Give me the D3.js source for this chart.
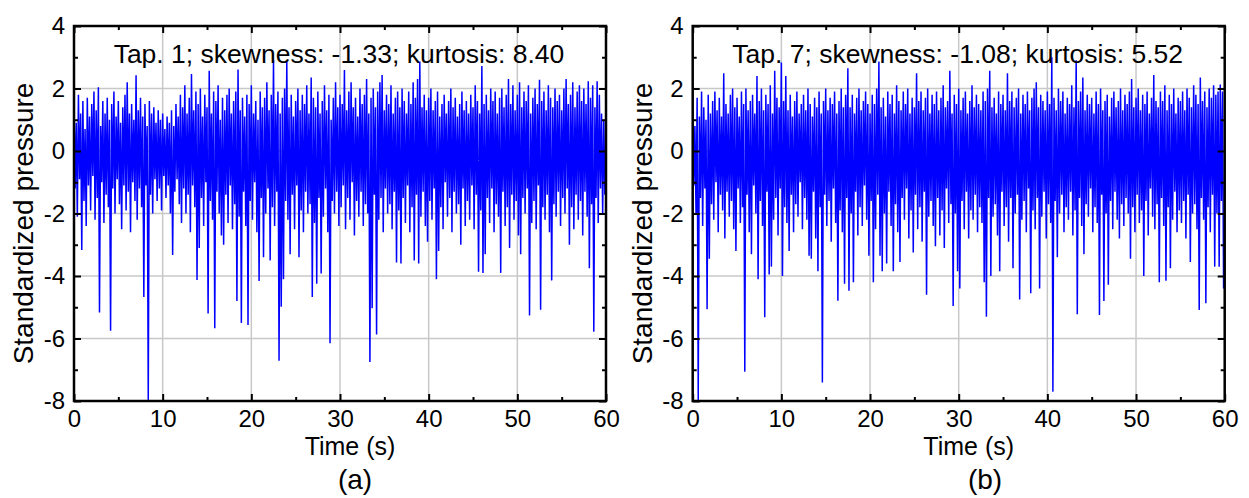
<!DOCTYPE html>
<html>
<head>
<meta charset="utf-8">
<script src="https://cdn.jsdelivr.net/npm/d3@7"></script>
<style>
	body { margin: 0; background: #fff; }
	svg { display: block; font-family: Arial, "Liberation Sans", sans-serif; }
</style>
</head>
<body>
<div id="chart"></div>
<script>
var CHART_WIDTH = 1249;
var CHART_HEIGHT = 498;
var SAMPLE_STEP = 0.25;

// highest and lowest value in each 0.25 s window
var tap1Upper = [
	1.4, 0.9, 1.8, 1.2, 1.6, 0.7, 1.7, 1.1, 1.5, 1.9,
	1.3, 2.04, 0.8, 1.6, 1.2, 1.7, 1.0, 1.5, 1.9, 1.1,
	1.6, 0.9, 1.4, 1.8, 2.2, 1.2, 1.5, 1.0, 2.42, 1.3,
	1.7, 1.1, 1.5, 0.8, 1.6, 1.2, 1.4, 0.9, 1.3, 1.0,
	1.2, 0.7, 1.1, 0.9, 1.3, 0.8, 1.5, 1.1, 1.8, 1.4,
	2.1, 1.2, 1.7, 2.46, 1.3, 1.9, 1.5, 2.0, 1.1, 1.8,
	1.4, 2.57, 1.2, 1.9, 1.6, 2.1, 1.0, 1.7, 1.3, 1.8,
	2.0, 1.2, 1.6, 1.9, 2.61, 1.3, 1.7, 1.1, 1.8, 1.5,
	2.1, 1.2, 1.6, 1.0, 1.9, 1.4, 1.7, 2.2, 1.3, 1.8,
	2.91, 1.5, 1.9, 1.2, 1.7, 2.0, 2.86, 1.4, 1.8, 1.1,
	1.6, 2.0, 1.3, 1.8, 1.5, 2.1, 1.2, 2.35, 1.7, 1.4,
	1.9, 1.2, 1.6, 2.1, 1.3, 1.8, 1.0, 1.7, 2.2, 1.4,
	1.8, 1.5, 2.59, 1.3, 1.9, 2.2, 1.4, 1.7, 1.1, 2.0,
	1.5, 1.8, 2.3, 1.2, 1.7, 2.0, 1.4, 1.9, 2.2, 2.43,
	1.3, 1.8, 1.5, 2.1, 1.2, 1.7, 1.9, 1.4, 2.0, 1.6,
	1.2, 1.9, 1.5, 2.2, 1.7, 2.3, 2.86, 1.4, 1.8, 1.3,
	1.7, 2.0, 1.3, 1.6, 1.9, 1.1, 1.5, 1.8, 1.2, 1.6,
	2.0, 1.4, 1.7, 1.1, 1.5, 1.9, 1.3, 1.6, 1.2, 1.8,
	1.4, 2.1, 1.6, 1.2, 2.72, 1.5, 1.8, 1.3, 2.0, 1.6,
	1.9, 1.2, 1.7, 2.0, 1.4, 1.8, 2.3, 1.5, 2.1, 1.3,
	1.8, 2.2, 1.4, 1.9, 1.6, 2.1, 1.2, 1.7, 2.0, 1.5,
	2.28, 1.6, 1.9, 1.3, 2.1, 1.7, 1.4, 2.0, 1.6, 1.8,
	1.3, 2.0, 2.3, 1.5, 1.8, 2.2, 1.4, 1.9, 2.1, 1.6,
	2.0, 1.5, 2.23, 1.7, 2.1, 1.4, 2.23, 1.8, 1.2, 1.0
];
var tap1Lower = [
	-1.2, -2.1, -0.9, -3.17, -1.6, -2.4, -1.1, -1.9, -0.8, -2.2,
	-1.5, -5.17, -1.0, -2.3, -1.4, -1.8, -5.75, -1.2, -2.0, -0.9,
	-1.7, -2.5, -1.1, -1.9, -1.3, -2.6, -1.0, -1.6, -2.2, -1.2,
	-1.8, -4.67, -1.1, -8.0, -1.4, -2.0, -0.9, -1.6, -1.2, -1.9,
	-0.8, -1.5, -1.1, -2.0, -3.33, -1.3, -0.9, -1.7, -2.3, -1.2,
	-2.0, -1.4, -2.6, -1.1, -1.8, -4.13, -3.1, -1.5, -2.4, -1.0,
	-5.2, -1.6, -2.2, -5.67, -1.3, -2.0, -2.7, -3.0, -1.4, -2.3,
	-1.1, -2.5, -1.7, -4.8, -2.1, -5.5, -1.3, -2.4, -5.57, -1.6,
	-2.2, -1.0, -2.6, -4.16, -1.5, -3.4, -2.0, -1.2, -3.5, -1.8,
	-2.4, -1.3, -6.71, -4.98, -4.1, -1.6, -2.2, -3.3, -1.4, -2.5,
	-1.1, -3.4, -1.9, -2.6, -1.3, -2.0, -1.7, -4.67, -2.3, -4.25,
	-1.5, -3.92, -2.1, -1.2, -2.6, -6.15, -1.6, -2.0, -1.3, -2.4,
	-1.8, -1.1, -2.5, -1.5, -2.2, -1.0, -2.7, -1.6, -2.1, -1.3,
	-2.4, -1.7, -2.0, -6.75, -5.03, -1.4, -5.87, -2.2, -1.5, -2.6,
	-1.2, -2.0, -1.7, -2.5, -1.3, -3.57, -1.9, -3.6, -1.5, -2.3,
	-1.1, -2.6, -1.8, -3.5, -1.4, -3.6, -2.1, -1.3, -2.4, -2.9,
	-1.6, -2.2, -1.2, -4.1, -3.2, -1.8, -2.5, -1.0, -2.1, -1.5,
	-2.6, -1.3, -2.0, -1.7, -3.0, -1.2, -2.4, -1.6, -2.2, -1.1,
	-2.5, -1.4, -3.86, -1.9, -3.9, -3.3, -1.5, -2.3, -1.2, -2.6,
	-1.7, -2.1, -3.9, -1.3, -2.4, -1.8, -3.1, -1.4, -2.2, -1.6,
	-2.7, -3.3, -1.5, -2.0, -1.2, -5.26, -2.3, -1.6, -2.5, -1.1,
	-5.08, -1.8, -2.2, -1.4, -2.6, -4.14, -1.7, -2.1, -1.3, -2.4,
	-1.5, -2.0, -1.2, -3.0, -1.8, -2.5, -1.4, -2.2, -1.6, -2.7,
	-1.3, -2.1, -3.75, -1.7, -5.78, -1.5, -2.3, -1.2, -2.0, -1.4
];
var tap7Upper = [
	1.3, 0.8, 1.7, 1.1, 1.9, 1.4, 1.0, 1.8, 1.2, 1.6,
	1.9, 1.3, 1.7, 1.1, 2.49, 1.5, 1.2, 1.8, 2.0, 1.4,
	1.7, 1.1, 1.9, 1.5, 2.0, 1.3, 1.6, 1.8, 1.2, 2.4,
	1.6, 2.0, 1.3, 1.8, 1.5, 2.1, 1.2, 2.57, 1.7, 1.4,
	2.83, 1.6, 2.4, 1.3, 1.8, 1.1, 1.6, 1.9, 1.2, 1.5,
	1.8, 1.3, 2.0, 1.5, 1.1, 1.7, 1.4, 1.9, 1.2, 1.6,
	2.0, 1.3, 1.7, 1.5, 1.9, 1.2, 1.6, 2.0, 1.4, 1.8,
	2.65, 1.4, 1.8, 1.2, 1.7, 2.0, 1.3, 1.6, 1.9, 1.5,
	1.2, 1.8, 1.5, 2.0, 2.86, 1.4, 1.7, 1.1, 1.9, 1.5,
	1.8, 1.2, 2.1, 1.6, 1.3, 1.9, 1.5, 2.0, 1.2, 1.7,
	1.4, 2.49, 1.6, 1.9, 1.3, 1.7, 2.0, 1.2, 1.8, 1.5,
	1.9, 1.3, 1.7, 2.1, 1.4, 1.6, 2.57, 1.2, 1.8, 1.5,
	2.0, 1.3, 1.7, 1.9, 1.2, 1.6, 2.1, 1.4, 1.8, 1.5,
	1.3, 1.9, 1.6, 2.0, 2.57, 1.4, 1.7, 1.2, 1.9, 1.5,
	1.8, 1.3, 2.49, 1.6, 1.9, 1.4, 1.7, 2.0, 1.2, 1.8,
	1.5, 1.9, 1.3, 1.7, 2.0, 2.2, 1.4, 1.8, 1.6, 1.3,
	1.9, 1.5, 3.0, 1.7, 1.3, 2.0, 1.6, 1.9, 1.2, 1.7,
	1.5, 2.1, 1.4, 2.9, 1.6, 1.9, 2.35, 1.3, 1.8, 1.5,
	1.7, 1.2, 1.9, 1.5, 2.0, 1.3, 1.6, 1.8, 1.1, 1.7,
	1.9, 1.4, 1.6, 2.0, 1.3, 1.8, 1.5, 1.9, 2.3, 1.4,
	1.7, 2.0, 1.3, 1.8, 1.5, 1.9, 1.2, 1.7, 2.43, 1.6,
	1.4, 1.9, 1.6, 2.1, 1.3, 1.8, 1.5, 2.0, 1.2, 1.7,
	1.6, 1.9, 1.3, 2.0, 1.7, 1.4, 2.1, 1.8, 1.5, 2.35,
	1.6, 1.9, 1.4, 2.0, 1.7, 2.1, 1.8, 1.9, 2.13, 1.9
];
var tap7Lower = [
	-1.1, -2.0, -8.0, -1.5, -2.4, -1.2, -5.06, -3.45, -1.7, -2.2,
	-1.0, -2.6, -1.4, -1.9, -2.8, -1.3, -2.1, -1.6, -2.5, -3.2,
	-1.2, -2.3, -1.8, -7.06, -1.4, -2.6, -3.3, -1.1, -2.0, -4.1,
	-1.6, -2.4, -5.32, -1.3, -3.95, -3.7, -2.2, -1.5, -2.7, -1.2,
	-4.0, -1.8, -2.3, -3.2, -1.4, -2.6, -1.7, -2.1, -1.0, -2.5,
	-1.5, -2.2, -3.35, -3.45, -1.3, -2.8, -3.85, -1.8, -7.41, -1.4,
	-2.4, -1.6, -2.9, -1.2, -2.3, -4.79, -1.9, -2.6, -4.25, -1.5,
	-4.47, -2.0, -4.2, -1.3, -2.7, -1.8, -2.4, -1.1, -2.2, -3.35,
	-1.6, -4.2, -2.5, -1.4, -3.35, -3.85, -2.0, -3.6, -1.3, -2.4,
	-3.85, -1.7, -2.6, -3.55, -1.5, -2.2, -1.2, -2.8, -1.9, -3.25,
	-1.4, -2.5, -1.8, -2.9, -1.3, -4.6, -2.1, -1.6, -2.4, -3.05,
	-1.5, -2.7, -1.9, -3.1, -1.2, -2.3, -1.7, -4.96, -2.0, -3.85,
	-4.4, -1.6, -2.5, -1.3, -2.8, -1.9, -2.2, -1.4, -2.6, -1.8,
	-2.3, -4.2, -5.3, -1.5, -4.0, -2.1, -1.7, -2.7, -3.85, -1.3,
	-2.4, -1.8, -2.9, -1.5, -3.75, -2.0, -1.4, -4.75, -2.2, -1.6,
	-2.6, -1.2, -4.55, -1.9, -2.5, -1.5, -4.4, -2.1, -1.3, -2.8,
	-1.7, -2.3, -7.7, -1.6, -3.4, -2.0, -1.4, -2.6, -1.8, -2.2,
	-1.3, -2.7, -1.9, -5.22, -1.5, -2.4, -3.3, -1.7, -2.1, -1.2,
	-2.6, -1.8, -2.3, -5.25, -1.4, -4.8, -2.0, -4.28, -1.6, -2.5,
	-1.3, -2.2, -2.8, -1.7, -2.4, -1.5, -2.0, -3.45, -1.8, -2.6,
	-1.4, -2.3, -1.9, -4.0, -1.6, -2.7, -1.2, -2.1, -2.5, -1.7,
	-4.2, -1.5, -2.4, -4.15, -1.8, -3.75, -2.2, -1.3, -2.6, -1.9,
	-2.3, -1.6, -2.8, -1.4, -3.55, -2.0, -1.7, -2.5, -5.09, -1.5,
	-2.2, -4.87, -1.8, -2.6, -1.4, -3.7, -2.0, -3.7, -1.6, -4.4
];

var timeTicks = [0, 10, 20, 30, 40, 50, 60];
var timeMinorTicks = [5, 15, 25, 35, 45, 55];
var pressureTicks = [4, 2, 0, -2, -4, -6, -8];
var pressureMinorTicks = [3, 1, -1, -3, -5, -7];
var gridTimes = [10, 20, 30, 40, 50];
var gridPressures = [2, 0, -2, -4, -6];
var panelNotes = [
	"Tap. 1; skewness: -1.33; kurtosis: 8.40",
	"Tap. 7; skewness: -1.08; kurtosis: 5.52"
];
var panelCaptions = ["(a)", "(b)"];

class PressurePanel {
	constructor(svg, opts) {
		this.svg = svg;
		this.left = opts.left;
		this.top = 26;
		this.width = 532;
		this.height = 375;

		this.g = svg.append("g")
			.attr("transform", `translate(${this.left},${this.top})`);

		this.xScale = d3.scaleLinear().domain([0, 60]).range([0, this.width]);
		this.yScale = d3.scaleLinear().domain([-8, 4]).range([this.height, 0]);

		this.drawGrid();
		this.drawSeries(opts.upper, opts.lower, opts.id);
		this.drawAxes();
		this.drawLabels(opts);
	}

	drawGrid() {
		this.g.selectAll(".vgrid")
			.data(gridTimes)
			.join("line")
			.attr("x1", d => this.xScale(d)).attr("x2", d => this.xScale(d))
			.attr("y1", 0).attr("y2", this.height)
			.attr("stroke", "#c8c8c8")
			.attr("stroke-width", 1.5);

		this.g.selectAll(".hgrid")
			.data(gridPressures)
			.join("line")
			.attr("x1", 0).attr("x2", this.width)
			.attr("y1", d => this.yScale(d)).attr("y2", d => this.yScale(d))
			.attr("stroke", "#c8c8c8")
			.attr("stroke-width", 1.5);
	}

	drawSeries(upper, lower, id) {
		// each window gives its peak then its trough
		const points = [];
		upper.forEach((v, i) => {
			points.push([i * SAMPLE_STEP, v]);
			points.push([i * SAMPLE_STEP + SAMPLE_STEP / 2, lower[i]]);
		});

		this.g.append("clipPath")
			.attr("id", "clip-" + id)
			.append("rect")
			.attr("width", this.width)
			.attr("height", this.height);

		const line = d3.line()
			.x(d => this.xScale(d[0]))
			.y(d => this.yScale(d[1]));

		this.g.append("path")
			.datum(points)
			.attr("clip-path", `url(#clip-${id})`)
			.attr("fill", "none")
			.attr("stroke", "#0000ff")
			.attr("stroke-width", 1.5)
			.attr("stroke-linejoin", "bevel")
			.attr("d", line);
	}

	drawAxes() {
		const fmt = d => String(d);
		const axes = [
			{ axis: d3.axisBottom, scale: this.xScale, y: this.height, x: 0, labels: true },
			{ axis: d3.axisTop, scale: this.xScale, y: 0, x: 0, labels: false },
			{ axis: d3.axisLeft, scale: this.yScale, y: 0, x: 0, labels: true },
			{ axis: d3.axisRight, scale: this.yScale, y: 0, x: this.width, labels: false }
		];

		axes.forEach(a => {
			const isX = a.scale === this.xScale;
			const major = a.axis(a.scale)
				.tickValues(isX ? timeTicks : pressureTicks)
				.tickSizeInner(-7)
				.tickSizeOuter(0)
				.tickPadding(9)
				.tickFormat(a.labels ? fmt : "");
			const minor = a.axis(a.scale)
				.tickValues(isX ? timeMinorTicks : pressureMinorTicks)
				.tickSizeInner(-4)
				.tickSizeOuter(0)
				.tickFormat("");

			[major, minor].forEach(ax => {
				const sel = this.g.append("g")
					.attr("transform", `translate(${a.x},${a.y})`)
					.call(ax);
				sel.select(".domain").remove();
				sel.selectAll(".tick line")
					.attr("stroke", "#000")
					.attr("stroke-width", 2);
				sel.selectAll("text")
					.attr("fill", "#000")
					.style("font-size", "24px")
					.style("font-family", "Arial, 'Liberation Sans', sans-serif");
			});
		});

		this.g.append("rect")
			.attr("width", this.width)
			.attr("height", this.height)
			.attr("fill", "none")
			.attr("stroke", "#000")
			.attr("stroke-width", 2.5);
	}

	drawLabels(opts) {
		this.g.append("text")
			.attr("x", this.width / 2 - 1)
			.attr("y", 37)
			.attr("text-anchor", "middle")
			.style("font-size", "26.5px")
			.text(opts.note);

		this.g.append("text")
			.attr("x", 276)
			.attr("y", this.height + 54)
			.attr("text-anchor", "middle")
			.style("font-size", "25px")
			.text("Time (s)");

		this.g.append("text")
			.attr("transform", "rotate(-90)")
			.attr("x", -197.5)
			.attr("y", -41)
			.attr("text-anchor", "middle")
			.style("font-size", "28px")
			.text("Standardized pressure");

		this.svg.append("text")
			.attr("x", opts.captionX)
			.attr("y", 489)
			.attr("text-anchor", "middle")
			.style("font-size", "28px")
			.text(opts.caption);
	}
}

var svg = d3.select("#chart")
	.append("svg")
	.attr("width", CHART_WIDTH)
	.attr("height", CHART_HEIGHT);

svg.append("rect")
	.attr("width", CHART_WIDTH)
	.attr("height", CHART_HEIGHT)
	.attr("fill", "#fff");

new PressurePanel(svg, {
	id: "a", left: 74, upper: tap1Upper, lower: tap1Lower,
	note: panelNotes[0], caption: panelCaptions[0], captionX: 355
});
new PressurePanel(svg, {
	id: "b", left: 692.7, upper: tap7Upper, lower: tap7Lower,
	note: panelNotes[1], caption: panelCaptions[1], captionX: 985
});
</script>
</body>
</html>
